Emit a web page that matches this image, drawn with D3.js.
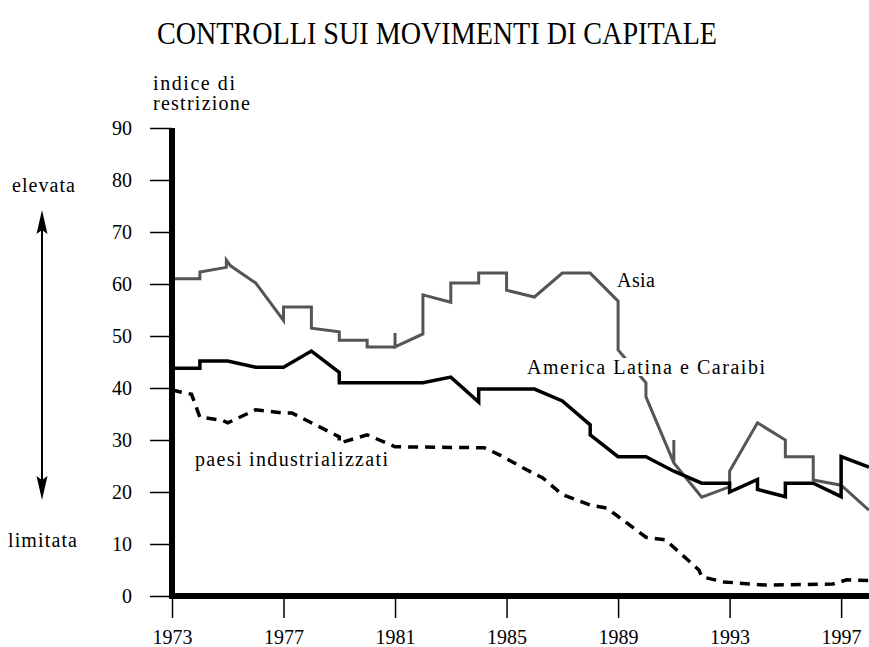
<!DOCTYPE html>
<html>
<head>
<meta charset="utf-8">
<script src="https://cdn.jsdelivr.net/npm/d3@7"></script>
<style>
  body { margin: 0; background: #fff; }
  svg { display: block; }
</style>
</head>
<body>
<script>
// dati (anni con frazioni dove il gradino non cade sull'anno)
const xTicks = [1973, 1977, 1981, 1985, 1989, 1993, 1997];
const yTicks = [0, 10, 20, 30, 40, 50, 60, 70, 80, 90];

const asiaYears = [1973, 1974, 1974, 1974.95, 1974.95, 1975.1, 1976, 1977, 1977, 1978, 1978, 1979, 1979, 1980, 1980, 1981, 1981, 1981,
  1982, 1982, 1983, 1983, 1984, 1984, 1985, 1985, 1986, 1987, 1988, 1989, 1989, 1990, 1990, 1991, 1991, 1991,
  1992, 1993, 1993, 1994, 1995, 1995, 1996, 1996, 1997, 1998];
const asiaValues = [61, 61, 62.3, 63.2, 64.6, 63.5, 60.2, 53, 55.6, 55.6, 51.5, 50.8, 49.2, 49.2, 47.9, 47.9, 50.6, 47.9,
  50.4, 57.9, 56.5, 60.2, 60.2, 62.1, 62.1, 58.8, 57.5, 62.1, 62.1, 56.7, 47.3, 41, 38.3, 25.6, 30, 25.6,
  19, 21, 24, 33.3, 30, 26.8, 26.8, 22.3, 21.3, 16.5];

const latamYears = [1973, 1974, 1974, 1975, 1976, 1977, 1978, 1979, 1979, 1982, 1983, 1984, 1984, 1986, 1987, 1988, 1988,
  1989, 1990, 1991, 1992, 1993, 1993, 1994, 1994, 1995, 1995, 1996, 1997, 1997, 1998];
const latamValues = [43.8, 43.8, 45.2, 45.2, 44, 44, 47.1, 43, 41, 41, 42.1, 37.3, 39.8, 39.8, 37.5, 32.9, 31,
  26.8, 26.8, 24, 21.7, 21.7, 20, 22.4, 20.5, 19.1, 21.7, 21.7, 19.1, 26.8, 24.8];

const indYears = [1973, 1973.7, 1974, 1974.8, 1975, 1976, 1977, 1977.3, 1979, 1979, 1980, 1981, 1984.2, 1984.8, 1985.6,
  1986.3, 1987, 1988, 1988.6, 1990, 1990.7, 1991.9, 1992, 1992.8, 1994.3, 1996.7, 1997.2, 1998];
const indValues = [39.6, 38.8, 34.4, 33.8, 33.3, 35.8, 35.2, 35.2, 30.6, 29.4, 31, 28.7, 28.5, 27, 24.6,
  22.7, 19.5, 17.5, 16.9, 11.3, 10.8, 5, 3.7, 2.7, 2.1, 2.3, 3.1, 3];

const width = 869;
const height = 647;
const serif = "'Liberation Serif', 'Times New Roman', serif";

const svg = d3.select("body").append("svg")
  .attr("width", width)
  .attr("height", height);

const x = d3.scaleLinear().domain([1973, 1998]).range([172, 869]);
const y = d3.scaleLinear().domain([0, 90]).range([596, 128]);

// titolo
svg.append("text")
  .attr("x", 157).attr("y", 44)
  .attr("font-family", serif).attr("font-size", 32)
  .attr("textLength", 560).attr("lengthAdjust", "spacingAndGlyphs")
  .text("CONTROLLI SUI MOVIMENTI DI CAPITALE");

// assi
const xAxis = svg.append("g")
  .attr("transform", "translate(0,596)")
  .call(d3.axisBottom(x).tickValues(xTicks).tickSize(22).tickPadding(12).tickFormat(d3.format("d")));
xAxis.select(".domain").remove();
xAxis.selectAll("line").attr("stroke", "#000").attr("stroke-width", 1.5);
xAxis.selectAll("text").attr("font-family", serif).attr("font-size", 20).attr("fill", "#000");

const yAxis = svg.append("g")
  .attr("transform", "translate(172,0)")
  .call(d3.axisLeft(y).tickValues(yTicks).tickSize(22).tickPadding(18));
yAxis.select(".domain").remove();
yAxis.selectAll("line").attr("stroke", "#000").attr("stroke-width", 1.5);
yAxis.selectAll("text").attr("font-family", serif).attr("font-size", 20).attr("fill", "#000");

// serie
const line = d3.line()
  .x(d => x(d[0]))
  .y(d => y(d[1]));

svg.append("path")
  .datum(d3.zip(asiaYears, asiaValues))
  .attr("fill", "none")
  .attr("stroke", "#555")
  .attr("stroke-width", 3)
  .attr("d", line);

svg.append("path")
  .datum(d3.zip(latamYears, latamValues))
  .attr("fill", "none")
  .attr("stroke", "#000")
  .attr("stroke-width", 3.5)
  .attr("d", line);

svg.append("path")
  .datum(d3.zip(indYears, indValues))
  .attr("fill", "none")
  .attr("stroke", "#000")
  .attr("stroke-width", 3.5)
  .attr("stroke-dasharray", "10,7")
  .attr("d", line);

// linee spesse degli assi
svg.append("line")
  .attr("x1", x(1973)).attr("x2", x(1973))
  .attr("y1", y(90)).attr("y2", y(0) + 3)
  .attr("stroke", "#000").attr("stroke-width", 6);
svg.append("line")
  .attr("x1", x(1973) - 3).attr("x2", width)
  .attr("y1", y(0)).attr("y2", y(0))
  .attr("stroke", "#000").attr("stroke-width", 6);

// etichette
function label(tx, ty, str, len, bg) {
  const t = svg.append("text")
    .attr("x", tx).attr("y", ty)
    .attr("font-family", serif).attr("font-size", 20)
    .attr("textLength", len).attr("lengthAdjust", "spacing")
    .text(str);
  if (bg) {
    const b = t.node().getBBox();
    svg.insert("rect", () => t.node())
      .attr("x", b.x - 3).attr("y", b.y + 2)
      .attr("width", b.width + 6).attr("height", b.height - 4)
      .attr("fill", "#fff");
  }
  return t;
}

label(153, 90, "indice di", 82);
label(153, 110, "restrizione", 97);
label(12, 192, "elevata", 63);
label(8, 547, "limitata", 69);
label(617, 287, "Asia", 38);
label(527, 374, "America Latina e Caraibi", 238, true);
label(195, 466, "paesi industrializzati", 193);

// freccia doppia
svg.append("line")
  .attr("x1", 42).attr("x2", 42)
  .attr("y1", 215).attr("y2", 495)
  .attr("stroke", "#000").attr("stroke-width", 2);

svg.append("path")
  .attr("d", "M36.5,234 L42,210 L47.5,234 L42,230 Z")
  .attr("fill", "#000");
svg.append("path")
  .attr("d", "M36.5,476 L42,500 L47.5,476 L42,480 Z")
  .attr("fill", "#000");
</script>
</body>
</html>
